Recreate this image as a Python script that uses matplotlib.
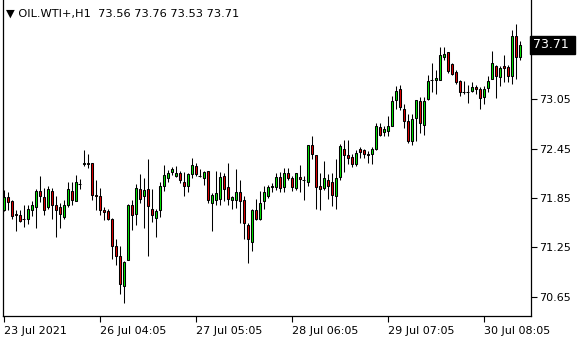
import numpy as np
import matplotlib
matplotlib.use("Agg")
import matplotlib.pyplot as plt

# H1 bars, oldest first
opens = [71.70, 71.86, 71.81, 71.66, 71.64, 71.59, 71.59, 71.70, 71.74, 71.94,
         71.86, 71.74, 71.94, 71.76, 71.74, 71.62, 71.76, 71.94, 71.81, 72.02,
         72.26, 72.27, 72.27, 71.89, 71.88, 71.70, 71.69, 71.60, 71.26, 71.15,
         70.78, 71.09, 71.76, 71.65, 71.96, 71.87, 71.96, 71.72, 71.61, 71.70,
         72.00, 72.09, 72.16, 72.12, 72.15, 72.04, 72.00, 72.14, 72.24, 72.12,
         72.09, 72.18, 71.79, 71.82, 71.84, 72.12, 71.98, 71.83, 71.83, 71.92,
         71.83, 71.52, 71.31, 71.70, 71.59, 71.81, 71.88, 71.98, 71.98, 72.10,
         71.98, 72.15, 72.09, 71.97, 72.11, 72.07, 72.04, 72.49, 72.37, 71.99,
         71.97, 72.07, 72.04, 71.88, 72.10, 72.45, 72.37, 72.35, 72.26, 72.44,
         72.43, 72.39, 72.39, 72.44, 72.71, 72.65, 72.67, 72.73, 73.04, 73.18,
         72.93, 72.79, 72.54, 72.82, 73.03, 72.74, 73.05, 73.28, 73.29, 73.29,
         73.56, 73.62, 73.48, 73.38, 73.27, 73.14, 73.14, 73.15, 73.20, 73.18,
         73.08, 73.19, 73.30, 73.45, 73.32, 73.45, 73.44, 73.33, 73.82, 73.56]
highs = [71.95, 71.92, 71.82, 71.70, 71.70, 71.77, 71.76, 71.81, 71.96, 72.12,
         71.97, 71.99, 71.97, 71.87, 71.79, 71.83, 72.04, 72.04, 72.13, 72.08,
         72.43, 72.39, 72.28, 72.07, 71.97, 71.74, 71.72, 71.61, 71.35, 71.27,
         71.08, 71.78, 71.83, 72.02, 72.14, 72.09, 72.32, 71.96, 71.72, 72.05,
         72.25, 72.19, 72.23, 72.24, 72.18, 72.16, 72.15, 72.33, 72.28, 72.20,
         72.18, 72.18, 71.91, 72.18, 72.16, 72.15, 72.28, 71.87, 72.20, 72.07,
         71.87, 71.55, 71.71, 71.84, 71.93, 71.99, 72.01, 72.03, 72.15, 72.17,
         72.22, 72.22, 72.12, 72.15, 72.25, 72.12, 72.49, 72.60, 72.37, 72.15,
         72.30, 72.14, 72.15, 72.32, 72.51, 72.56, 72.55, 72.39, 72.43, 72.47,
         72.44, 72.42, 72.47, 72.76, 72.76, 72.72, 72.85, 73.09, 73.21, 73.22,
         72.99, 72.87, 72.87, 73.04, 73.08, 73.08, 73.35, 73.49, 73.41, 73.68,
         73.68, 73.62, 73.49, 73.41, 73.28, 73.27, 73.22, 73.26, 73.22, 73.20,
         73.21, 73.33, 73.64, 73.47, 73.45, 73.59, 73.47, 73.89, 73.97, 73.76]
lows = [71.69, 71.70, 71.60, 71.45, 71.56, 71.50, 71.53, 71.63, 71.48, 71.80,
        71.64, 71.72, 71.60, 71.38, 71.48, 71.60, 71.74, 71.76, 71.81, 71.96,
        72.24, 72.21, 71.83, 71.70, 71.64, 71.58, 71.58, 71.11, 71.03, 70.68,
        70.57, 71.09, 71.46, 71.52, 71.79, 71.48, 71.14, 71.56, 71.37, 71.62,
        71.94, 72.04, 72.13, 72.10, 72.03, 71.88, 71.92, 72.09, 72.12, 72.10,
        72.01, 71.79, 71.45, 71.76, 71.77, 71.81, 71.76, 71.71, 71.73, 71.54,
        71.35, 71.06, 71.21, 71.58, 71.58, 71.71, 71.85, 71.92, 71.95, 71.92,
        71.92, 72.07, 71.94, 71.95, 71.92, 71.82, 71.99, 72.32, 71.71, 71.70,
        71.95, 71.84, 71.75, 71.71, 72.07, 72.17, 72.26, 72.23, 72.24, 72.34,
        72.34, 72.28, 72.26, 72.43, 72.60, 72.60, 72.60, 72.72, 72.93, 72.92,
        72.70, 72.52, 72.50, 72.54, 72.64, 72.61, 73.04, 73.14, 73.12, 73.29,
        73.53, 73.37, 73.35, 73.24, 73.09, 73.12, 73.00, 73.14, 73.11, 72.93,
        72.99, 73.14, 73.30, 73.07, 73.21, 73.26, 73.26, 73.24, 73.30, 73.53]
closes = [71.86, 71.80, 71.63, 71.64, 71.57, 71.59, 71.72, 71.76, 71.94, 71.87,
          71.70, 71.96, 71.76, 71.70, 71.65, 71.77, 71.96, 71.82, 72.04, 72.02,
          72.28, 72.26, 71.89, 71.87, 71.70, 71.68, 71.59, 71.27, 71.15, 70.80,
          71.07, 71.77, 71.64, 71.97, 71.84, 71.95, 71.75, 71.64, 71.69, 72.00,
          72.13, 72.15, 72.20, 72.15, 72.07, 72.00, 72.14, 72.25, 72.14, 72.12,
          72.16, 71.82, 71.89, 71.91, 72.10, 71.96, 71.84, 71.86, 71.92, 71.81,
          71.54, 71.35, 71.70, 71.59, 71.79, 71.92, 71.98, 71.99, 72.10, 71.97,
          72.15, 72.09, 71.98, 72.15, 72.08, 72.07, 72.49, 72.39, 71.98, 71.96,
          72.09, 72.00, 71.89, 72.09, 72.48, 72.37, 72.33, 72.26, 72.40, 72.41,
          72.39, 72.37, 72.45, 72.72, 72.61, 72.69, 72.73, 73.03, 73.15, 72.95,
          72.79, 72.54, 72.81, 73.04, 72.76, 73.03, 73.27, 73.28, 73.31, 73.59,
          73.60, 73.39, 73.36, 73.26, 73.14, 73.14, 73.14, 73.20, 73.18, 73.07,
          73.17, 73.27, 73.49, 73.33, 73.43, 73.43, 73.33, 73.82, 73.56, 73.71]

tick_bars = [0, 24, 48, 72, 96, 120]
tick_labels = ["23 Jul 2021", "26 Jul 04:05", "27 Jul 05:05",
               "28 Jul 06:05", "29 Jul 07:05", "30 Jul 08:05"]
price_ticks = [70.65, 71.25, 71.85, 72.45, 73.05, 73.65]
symbol = "OIL.WTI+,H1"

plt.rcParams['font.family'] = ['DejaVu Sans']

fig = plt.figure(figsize=(5.8, 3.4), dpi=100)
ax = fig.add_axes([2.5 / 580, 24 / 340, 528.5 / 580, 316 / 340])

o = np.array(opens)
h = np.array(highs)
l = np.array(lows)
c = np.array(closes)
x = np.arange(len(o))

ax.vlines(x, l, h, color='black', linewidth=0.75, zorder=2)

up = c > o
down = c < o
flat = c == o
ax.bar(x[up], (c - o)[up], bottom=o[up], width=0.5, color='#00e600',
       edgecolor='black', linewidth=0.75, zorder=3)
ax.bar(x[down], (o - c)[down], bottom=c[down], width=0.5, color='#e00000',
       edgecolor='black', linewidth=0.75, zorder=3)
ax.hlines(c[flat], x[flat] - 0.4, x[flat] + 0.4, color='black',
          linewidth=0.75, zorder=3)

ax.set_xlim(-0.25, 131.875)
ax.set_ylim(70.415, 74.257)

ax.spines['top'].set_visible(False)
for s in ['left', 'right', 'bottom']:
    ax.spines[s].set_linewidth(0.9)

ax.yaxis.tick_right()
ax.set_yticks(price_ticks)
ax.set_yticklabels([f"{p:.2f}" for p in price_ticks])
ax.tick_params(axis='y', direction='out', length=4, width=0.8, pad=2,
               labelsize=8)

ax.set_xticks(tick_bars)
ax.set_xticklabels(tick_labels, ha='left')
ax.tick_params(axis='x', direction='out', length=4, width=0.8, pad=3,
               labelsize=8)

# current price tag on the price scale
ax.text(1.003, c[-1], f"{c[-1]:.2f} ", transform=ax.get_yaxis_transform(),
        ha='left', va='center', color='white', fontsize=9, zorder=10,
        clip_on=False,
        bbox=dict(boxstyle='square,pad=0.2', facecolor='black',
                  edgecolor='black'))

fig.text(6 / 580, 1 - 14 / 340,
         "\u25bc " + symbol + "  " + " ".join(f"{v:.2f}" for v in
                                             [o[-1], h[-1], l[-1], c[-1]]),
         ha='left', va='center', fontsize=8.2, color='black')

fig.savefig("out.png", dpi=100, facecolor='white')
